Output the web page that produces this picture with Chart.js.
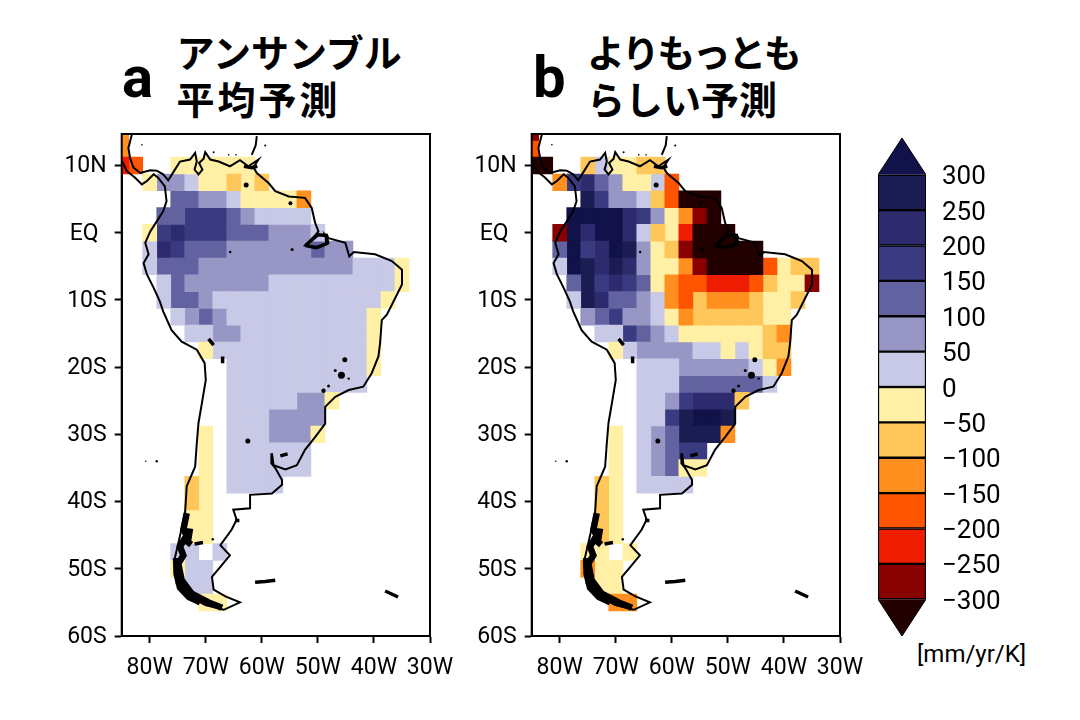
<!DOCTYPE html>
<html>
<head>
<meta charset="utf-8">
<script src="https://cdn.jsdelivr.net/npm/chart.js@4"></script>
<style>
html, body { margin: 0; background: #fff; }
canvas { position: absolute; }
.t { position: absolute; white-space: pre; color: #000; }
.jp { font: bold 38px/47px "Noto Sans CJK JP"; }
.letter { font: bold 58px/58px Roboto; }
#unit { font: 24px/28px Roboto; left: 917px; top: 640px; }
</style>
</head>
<body>
<div class="t letter" style="left:122px;top:48px">a</div>
<div class="t jp" style="left:176.5px;top:27px">アンサンブル
<span style="letter-spacing:3px">平均予測</span></div>
<div class="t letter" style="left:533px;top:48px">b</div>
<div class="t jp" style="left:587px;top:27px"><span style="letter-spacing:-2.5px">よりもっとも</span>
らしい予測</div>
<div class="t" id="unit">[mm/yr/K]</div>
<canvas id="mapA" width="400" height="580" style="left:60px;top:120px"></canvas>
<canvas id="mapB" width="400" height="580" style="left:470px;top:120px"></canvas>
<canvas id="bar" width="180" height="520" style="left:870px;top:130px"></canvas>
<script>
// colour classes, low to high: g = below -300 ... a = -50..0, 1 = 0..50 ... 7 = above 300
var levelCodes = ["g","f","e","d","c","b","a","1","2","3","4","5","6","7"];
var levelColors = ["#230000","#880000","#ee1c00","#ff5500","#ff8f1e","#ffc75a","#fff0a5",
                   "#c8c9e6","#9796c5","#6362a0","#393a80","#2d2b6d","#1b1d52","#12124a"];
var levelEdges = [-300,-250,-200,-150,-100,-50,0,50,100,150,200,250,300];

var lonTicks = [-80,-70,-60,-50,-40,-30];
var lonLabels = ["80W","70W","60W","50W","40W","30W"];
var latTicks = [10,0,-10,-20,-30,-40,-50,-60];
var latLabels = ["10N","EQ \u200A","10S","20S","30S","40S","50S","60S"];

// grid: each string is one latitude row, character k is longitude -85 + 2.5*k
var gridLats = [15,12.5,10,7.5,5,2.5,0,-2.5,-5,-7.5,-10,-12.5,-15,-17.5,-20,-22.5,-25,-27.5,-30,-32.5,-35,-37.5,-40,-42.5,-45,-47.5,-50,-52.5,-55];
var gridLons = [-85,-82.5,-80,-77.5,-75,-72.5,-70,-67.5,-65,-62.5,-60,-57.5,-55,-52.5,-50,-47.5,-45,-42.5,-40,-37.5,-35,-32.5,-30];

var rowsA = [
"c",
"c",
"ed..aaaaaa",
"..a221aabab",
"....33221aaaac",
"...33444321111",
"..a454443332221",
"..154333222222322",
"..133322222222222111a",
"...13222222111111111a",
"...1332111111111111a",
"....12321111111111a",
".....1122111111111a",
"......a11111111111a",
"........1111111111a",
"........1111111111",
"........1111122a",
"........1112222",
"......a.111222a",
"......a.111111",
"......a.111111",
".....ba.1111",
".....ba",
".....aa",
".....aa",
"....11.1",
"....a11",
".....11",
"......aa"
];

var rowsB = [
"f",
"d",
"gg..b1aabb",
"..c4532aa1d",
"....64221bdggg",
"...7777542acfg",
"..f757751baeggg",
"..3745762abfggggg",
"..1765652aacfggggdabb",
"...364543acddeeedbaaf",
"...1653321cdbcccbaab",
"....234221acbbbbbaa",
".....114321aaaaaabc",
"......a1222211a1abb",
"........111222221ac",
"........1113333331",
"........1124555b",
"........1146776",
"......a.123666c",
"......a.12344",
"......a.123aa",
".....ba.1111",
".....ba",
".....ba",
".....ba",
"....aa.a",
"....caa",
".....aa",
"......cc"
];

// coastline, degrees, null breaks the line (last piece is the Antilles)
var coastLon = [-83.2,-83.8,-83.5,-82.9,-81.7,-79.9,-78.75,-77.6,-76.7,-75.5,-74.6,-72.8,-71.9,-71.6,-72.0,-71.3,-70.6,-71.2,-70.4,-70.1,-69.2,-67.7,-65.7,-63.9,-62.4,-60.6,-61.5,-60.9,-58.8,-57.6,-55.2,-52.3,-51.1,-50.5,-49.9,-50.5,-52.3,-49.9,-48.1,-48.7,-48.1,-45.1,-44.4,-43.6,-39.8,-36.8,-35.0,-35.0,-36.2,-37.7,-38.6,-38.9,-39.2,-40.4,-41.9,-44.5,-46.9,-48.7,-48.7,-50.5,-52.3,-53.75,-55.8,-57.9,-58.2,-58.3,-57.6,-56.4,-56.4,-58.2,-62.1,-62.1,-65.1,-64.5,-65.4,-67.4,-65.7,-67.4,-68.9,-68.6,-66.5,-63.9,-66.8,-70.1,-73.1,-75.2,-75.6,-74.9,-73.7,-73.4,-71.9,-71.6,-71.3,-70.6,-70,-70.2,-71.6,-74.3,-76.1,-77.6,-78.2,-79.3,-80.5,-81.1,-80.2,-80.8,-79.9,-78.75,-77.6,-77,-77.3,-78.5,-79.3,-80.5,-81.4,-82.6,-84.1,-84.9,null,-60.9,-61.1,-61.8];
var coastLat = [14.6,12.6,11.1,9.7,8.9,9.3,9.25,8.7,7.8,9.4,10.6,10.9,11.9,10.6,9.4,8.7,9.4,10.4,11.0,12.0,10.9,10.6,9.9,10.8,9.9,10.9,9.75,8.9,7.4,6.2,5.4,5.2,3.7,1.5,0.2,-0.4,-1.9,-2.2,-1.5,-0.3,-0.8,-1.5,-3.5,-2.85,-3.2,-4.2,-5.5,-7.7,-9.7,-12.2,-13,-16.4,-18.4,-20.9,-22.9,-23.4,-24.4,-25.9,-28.4,-30.4,-32.3,-34.6,-35.2,-34.6,-32.8,-34.3,-35.0,-36.8,-37.5,-38.8,-39.0,-41.0,-41.2,-42.7,-44.2,-46.5,-48.0,-49.7,-51.2,-53.1,-54.1,-55,-56.1,-55.4,-54,-52.2,-48.7,-46.2,-41.7,-37.7,-34.8,-31.3,-28.3,-24.9,-21.9,-19.4,-17.4,-16.2,-14.5,-11.7,-10.2,-8.2,-6.2,-4.5,-3.2,-1.5,0.2,1.7,3.2,4.7,6.9,8.2,8.7,7.7,7.2,8.2,9.2,10.6,null,14.4,13,11.6];

// southern Chile fjords, drawn heavier, two broken strands
var fjordLon = [-73.4,-74,-73.4,-74.6,-74,-74.9,-74.6,-74.3,-72.5,-69.5,-67.1,null,-75.3,-75.2,-74.6,-73,-71,null,-72.8,-73.2,-72.6];
var fjordLat = [-41.7,-44.2,-45,-46.7,-48,-49.2,-50.5,-51.7,-53.7,-55,-55.8,null,-48.4,-50.8,-52.8,-54.2,-55,null,-44,-46,-46.4];

// short island and lake strokes, null breaks the line
var isleLon = [-52.2,-50,-48.5,-48.4,-50.3,-52.2,null,-63.2,-61.8,-60.8,null,-69.5,-68.6,null,-67,-67,null,-56.7,-55.4,null,-61.2,-59.4,-57.6,null,-38,-35.7,null,-64.8,-64,null,-72,-70.5];
var isleLat = [-1.9,-0.3,-0.4,-1.6,-2.2,-1.9,null,9.9,9.7,9.9,null,-15.8,-16.7,null,-18.4,-19.4,null,-33.2,-32.9,null,-52,-51.9,-51.7,null,-53.3,-54.2,null,-42.8,-42.8,null,-46.3,-46.1];

// single small islands and lakes
var dotLon = [-65.65,-54.6,-54.9,-62.8,-59.4,-81.4,-65.9,-64.6,-68.6,-45.2,-45.8,-44.5,-46.9,-49,-48.1,-62.5,-78.75,-80.7,-68.75];
var dotLat = [-2.85,-2.5,4.4,7.1,13,13.1,11.6,11.6,12,-18.9,-21.2,-21.7,-20.5,-23.5,-22.8,-31,-34,-34,-45.6];
var dotSize = [1.2,1.5,2,2.5,1,0.8,0.8,0.8,1,2.5,3.5,1.2,1.5,2.2,1.5,2.5,1.2,0.8,1.2];

function pairs(xs, ys) {
    return xs.map(function (x, i) { return { x: x, y: ys[i] }; });
}

// frame around the plot area, the axes only give left and bottom
var framePlugin = {
    id: "frame",
    afterDatasetsDraw: function (chart) {
        var a = chart.chartArea, ctx = chart.ctx;
        ctx.save();
        ctx.strokeStyle = "#000";
        ctx.lineWidth = 2;
        ctx.strokeRect(a.left, a.top, a.right - a.left, a.bottom - a.top);
        ctx.restore();
    }
};

function makeMap(id, rows) {
    var datasets = [];
    levelCodes.forEach(function (code, n) {
        var cells = [];
        rows.forEach(function (row, r) {
            for (var k = 0; k < row.length; k++) {
                if (row[k] == code) cells.push({ x: gridLons[k], y: [gridLats[r] - 1.25, gridLats[r] + 1.25] });
            }
        });
        datasets.push({
            type: "bar", data: cells, backgroundColor: levelColors[n], order: 2,
            grouped: false, barPercentage: 1, categoryPercentage: 1, borderWidth: 0
        });
    });
    datasets.push({ type: "line", data: pairs(coastLon, coastLat), borderColor: "#000", borderWidth: 2, pointRadius: 0, tension: 0, spanGaps: false, order: 1 });
    datasets.push({ type: "line", data: pairs(fjordLon, fjordLat), borderColor: "#000", borderWidth: 6.5, pointRadius: 0, tension: 0, spanGaps: false, order: 1 });
    datasets.push({ type: "line", data: pairs(isleLon, isleLat), borderColor: "#000", borderWidth: 3.5, pointRadius: 0, tension: 0, spanGaps: false, order: 1 });
    datasets.push({ type: "line", data: pairs(dotLon, dotLat), showLine: false, pointRadius: dotSize, pointBackgroundColor: "#000", pointBorderWidth: 0, order: 1 });

    new Chart(document.getElementById(id), {
        type: "bar",
        data: { datasets: datasets },
        plugins: [framePlugin],
        options: {
            responsive: false,
            animation: false,
            layout: { padding: { top: 14, right: 30 } },
            plugins: { legend: { display: false }, tooltip: { enabled: false } },
            scales: {
                x: {
                    type: "linear", min: -85, max: -30, offset: false,
                    grid: { drawOnChartArea: false, offset: false, tickLength: 7, tickColor: "#000", tickWidth: 2 },
                    border: { color: "#000", width: 2 },
                    afterBuildTicks: function (s) { s.ticks = lonTicks.map(function (v) { return { value: v }; }); },
                    afterFit: function (s) { s.height = 64; s.paddingLeft = 0; s.paddingRight = 0; },
                    ticks: {
                        color: "#000", font: { family: "Roboto", size: 23 }, padding: 11, maxRotation: 0, autoSkip: false,
                        callback: function (v) { return lonLabels[lonTicks.indexOf(v)]; }
                    }
                },
                y: {
                    type: "linear", min: -60, max: 14.7,
                    grid: { drawOnChartArea: false, tickLength: 7, tickColor: "#000", tickWidth: 2 },
                    border: { color: "#000", width: 2 },
                    afterBuildTicks: function (s) { s.ticks = latTicks.map(function (v) { return { value: v }; }); },
                    afterFit: function (s) { s.width = 61.7; s.paddingTop = 0; s.paddingBottom = 0; },
                    ticks: {
                        color: "#000", font: { family: "Roboto", size: 23 }, padding: 8, labelOffset: 1, autoSkip: false,
                        callback: function (v) { return latLabels[latTicks.indexOf(v)]; }
                    }
                }
            }
        }
    });
}

makeMap("mapA", rowsA);
makeMap("mapB", rowsB);

// colour bar, one floating bar per class plus the two end arrows
var arrowX = [0, 0.5, 1];
var arrowTopY = [300, 352, 300];
var arrowBottomY = [-300, -352, -300];

var barSets = [];
for (var i = 0; i < levelEdges.length - 1; i++) {
    barSets.push({
        type: "bar", data: [{ x: 0.5, y: [levelEdges[i], levelEdges[i + 1]] }],
        backgroundColor: levelColors[i + 1], borderColor: "#000", borderWidth: 1.5, borderSkipped: false,
        grouped: false, barPercentage: 1, categoryPercentage: 1, order: 2
    });
}
barSets.push({ type: "line", data: pairs(arrowX, arrowTopY), borderColor: "#000", borderWidth: 1, backgroundColor: levelColors[13], fill: { value: 300 }, pointRadius: 0, tension: 0, order: 1 });
barSets.push({ type: "line", data: pairs(arrowX, arrowBottomY), borderColor: "#000", borderWidth: 1, backgroundColor: levelColors[0], fill: { value: -300 }, pointRadius: 0, tension: 0, order: 1 });

new Chart(document.getElementById("bar"), {
    type: "bar",
    data: { datasets: barSets },
    options: {
        responsive: false,
        animation: false,
        layout: { padding: { top: 8, left: 8, bottom: 14 } },
        plugins: { legend: { display: false }, tooltip: { enabled: false } },
        scales: {
            x: { type: "linear", display: false, min: 0, max: 1, offset: false, ticks: { stepSize: 1 }, grid: { offset: false } },
            y: {
                type: "linear", position: "right", min: -352, max: 352,
                grid: { display: false },
                border: { display: false },
                afterBuildTicks: function (s) { s.ticks = levelEdges.map(function (v) { return { value: v }; }); },
                afterFit: function (s) { s.width = 124; s.paddingTop = 0; s.paddingBottom = 0; },
                ticks: {
                    color: "#000", font: { family: "Roboto", size: 26 }, padding: 8, labelOffset: 3, autoSkip: false,
                    callback: function (v) { return v < 0 ? "\u2212" + Math.abs(v) : "" + v; }
                }
            }
        }
    }
});
</script>
</body>
</html>
